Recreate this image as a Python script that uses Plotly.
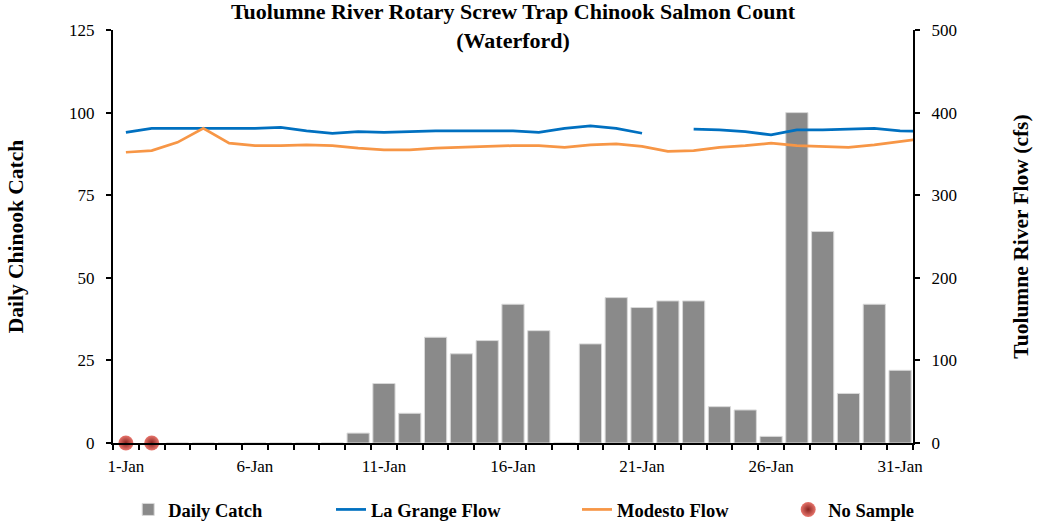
import plotly.graph_objects as go

days = list(range(1, 32))
line_days = list(range(1, 33))  # includes 1-Feb, clipped at the plot edge
tick_days = [1, 6, 11, 16, 21, 26, 31]
tick_labels = ["1-Jan", "6-Jan", "11-Jan", "16-Jan", "21-Jan", "26-Jan", "31-Jan"]

daily_catch = [None, None, 0, 0, 0, 0, 0, 0, 0, 3, 18, 9, 32, 27, 31, 42, 34, 0,
               30, 44, 41, 43, 43, 11, 10, 2, 100, 64, 15, 42, 22]
la_grange_flow = [376, 381, 381, 381, 381, 381, 382, 378, 375, 377, 376, 377, 378, 378,
                  378, 378, 376, 381, 384, 381, 375, None, 380, 379, 377, 373, 379, 379,
                  380, 381, 378, 377]
modesto_flow = [352, 354, 364, 381, 363, 360, 360, 361, 360, 357, 355, 355, 357, 358,
                359, 360, 360, 358, 361, 362, 359, 353, 354, 358, 360, 363, 360, 359,
                358, 361, 365, 369]
no_sample_days = [1, 2]
no_sample_values = [0, 0]

FONT = "Liberation Serif"

fig = go.Figure()
fig.add_trace(go.Bar(
    x=days, y=daily_catch, name="Daily Catch",
    marker=dict(color="#8a8a8a", line=dict(color="#d9d9d9", width=1)),
    yaxis="y", legend="legend", showlegend=True,
))
fig.add_trace(go.Scatter(
    x=line_days, y=la_grange_flow, name="La Grange Flow", mode="lines",
    line=dict(color="#0070c0", width=2.75), yaxis="y2", legend="legend2",
    connectgaps=False,
))
fig.add_trace(go.Scatter(
    x=line_days, y=modesto_flow, name="Modesto Flow", mode="lines",
    line=dict(color="#f79646", width=2.75), yaxis="y2", legend="legend3",
))
fig.add_trace(go.Scatter(
    x=no_sample_days, y=no_sample_values, name="No Sample", mode="markers",
    marker=dict(size=15, color="#e8756c", gradient=dict(type="radial", color="#8a2420"),
                line=dict(width=0)),
    yaxis="y", cliponaxis=False, legend="legend4",
))

legend_font = dict(family=FONT, size=18.5, color="black", weight="bold")
leg_y = -0.162
def leg(x):
    return dict(orientation="h", x=x, y=leg_y, xanchor="left", yanchor="middle",
                font=legend_font, bgcolor="rgba(0,0,0,0)", itemwidth=30)

tick_font = dict(family=FONT, size=17, color="black")
axis_title_font = dict(family=FONT, size=21.5, color="black", weight="bold")

fig.update_layout(
    width=1038, height=523,
    margin=dict(l=113, r=125, t=30, b=80, autoexpand=False),
    paper_bgcolor="white", plot_bgcolor="white",
    showlegend=True,
    bargap=0.14,
    title=dict(
        text="Tuolumne River Rotary Screw Trap Chinook Salmon Count<br>(Waterford)",
        x=0.5, xanchor="center", xref="paper", yref="container",
        y=1 - 19 / 523, yanchor="middle",
        font=dict(family=FONT, size=22, color="black", weight="bold"),
    ),
    xaxis=dict(
        range=[0.5, 31.5], tickmode="array", tickvals=tick_days, ticktext=tick_labels,
        ticks="", showline=True, linecolor="black", linewidth=1.5,
        showgrid=False, zeroline=False, ticklabelstandoff=7,
        tickfont=tick_font,
        minor=dict(tickmode="linear", tick0=0.5, dtick=1, ticks="outside",
                   ticklen=5, tickcolor="black", tickwidth=1.5, showgrid=False),
    ),
    yaxis=dict(
        range=[0, 125], dtick=25, tick0=0, ticks="outside", ticklen=5,
        tickcolor="black", tickwidth=1.5, automargin=False, ticklabelstandoff=8,
        showline=True, linecolor="black", linewidth=2, showgrid=False, zeroline=False,
        tickfont=tick_font,
        title=dict(text="Daily Chinook Catch", standoff=40, font=axis_title_font),
    ),
    yaxis2=dict(
        range=[0, 500], dtick=100, tick0=0, ticks="outside", ticklen=5,
        tickcolor="black", tickwidth=1.5, overlaying="y", side="right",
        automargin=False, ticklabelstandoff=8,
        showline=True, linecolor="black", linewidth=2, showgrid=False, zeroline=False,
        tickfont=tick_font,
        title=dict(text="Tuolumne River Flow (cfs)", standoff=57, font=axis_title_font),
    ),
    legend=leg(0.019),
    legend2=leg(0.2725),
    legend3=leg(0.58),
    legend4=leg(0.844),
)

fig.write_html("out.html", config={"displayModeBar": False},
               post_script="document.body.style.margin='0';")
